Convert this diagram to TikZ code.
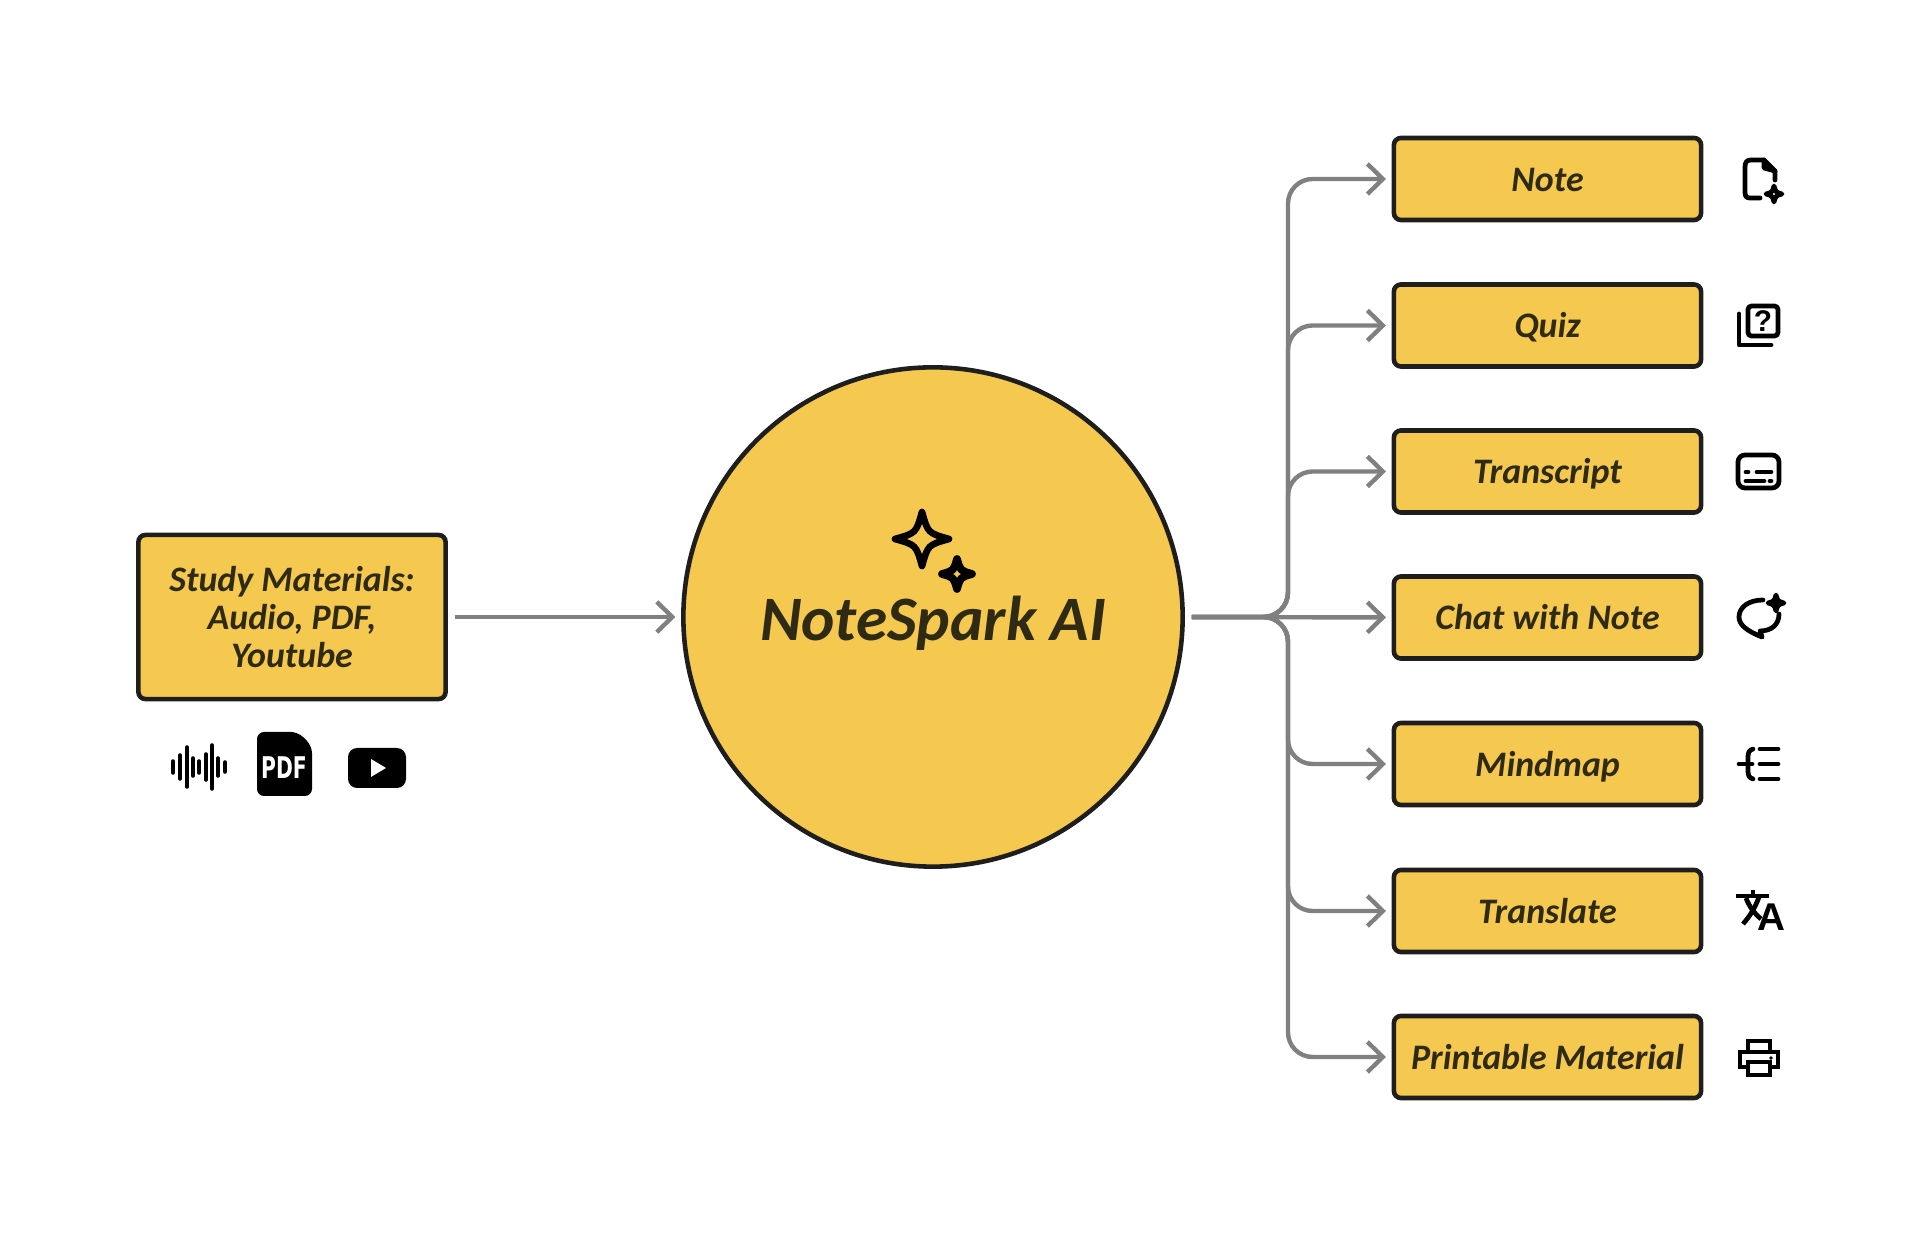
\documentclass[tikz,border=0pt]{standalone}
\usepackage{fontspec}
\setmainfont{Carlito}
\newfontfamily\iconfont{Liberation Sans}
\newfontfamily\pdffont{DejaVu Sans}
\usepackage{xcolor}
\usetikzlibrary{arrows.meta}
\definecolor{boxyellow}{HTML}{F5C84F}
\definecolor{boxline}{HTML}{1E1E1C}
\definecolor{inkdark}{HTML}{2E2A14}
\definecolor{linkgray}{HTML}{808080}
\tikzset{
  hand/.style={font=\fontsize{10.2}{10.8}\selectfont\bfseries\itshape,text=inkdark,align=center},
  card/.style={hand,draw=boxline,fill=boxyellow,line width=1.3pt,rounded corners=2pt,inner sep=0pt},
  outbox/.style={card,minimum width=3.07cm,minimum height=0.82cm,text height=7pt,text depth=0pt},
  link/.style={draw=linkgray,line width=1.25pt,-{Straight Barb[length=4.4pt,width=8.6pt,line width=1.25pt]},shorten <=2pt,shorten >=1.6pt},
  iconline/.style={draw=black,line width=1.35pt,line cap=round,line join=round},
  sparkle/.pic={
    \path[pic actions] (1,0) .. controls (.22,.22) .. (0,1) .. controls (-.22,.22) .. (-1,0)
      .. controls (-.22,-.22) .. (0,-1) .. controls (.22,-.22) .. cycle;
  }
}
\begin{document}
\begin{tikzpicture}[x=0.01cm,y=-0.01cm]
  \useasboundingbox (0,0) rectangle (1920,1237);

  \node[card,minimum width=3.07cm,minimum height=1.64cm] (source) at (292,617) {Study Materials:\\Audio, PDF,\\Youtube};
  \node[circle,draw=boxline,fill=boxyellow,line width=1.3pt,minimum size=4.99cm,inner sep=0pt] (core) at (933,617) {};
  \node[hand,font=\fontsize{18}{20}\selectfont\bfseries\itshape] (title) at (933,623) {NoteSpark AI};

  \foreach \name/\ypos/\txt in {note/179/Note,quiz/325.5/Quiz,transcript/471.5/Transcript,chat/617.5/Chat with Note,mindmap/764/Mindmap,translate/911/Translate,printable/1057/Printable Material}
    \node[outbox] (\name) at (1547.5,\ypos) {\txt};

  % arrows
  \coordinate (spine) at (1288,617);
  \draw[link] (source) -- (core);
  \draw[link] (core) -- (chat);
  \foreach \name in {note,quiz,transcript,mindmap,translate,printable}
    \draw[link,rounded corners=7pt] (core.east) -- (spine) |- (\name.west);

  % stars in the circle
  \pic[iconline,line width=1.9pt,scale=27] at (922,539) {sparkle};
  \pic[iconline,line width=2.2pt,scale=15] at (957,574) {sparkle};

  % source icons
  \foreach \xpos/\half in {173/6,180/12,187/20,193/9,199/6,206/13,212/22,218/9,225/5}
    \draw[black,line width=1pt,line cap=round] (\xpos,767-\half) -- (\xpos,767+\half);
  \fill[black,rounded corners=2pt] (257,732) -- (298,732) -- (312,746) -- (312,796) -- (257,796) -- cycle;
  \node[text=white,inner sep=0pt,font=\pdffont\fontsize{8.5}{9}\selectfont\bfseries] (pdf) at (284,768) {\scalebox{.68}[1]{PDF}};
  \fill[black,rounded corners=2.6pt] (348,748) rectangle (406,788);
  \fill[white] (371,759) -- (386,768) -- (371,777) -- cycle;

  % note
  \draw[iconline] (1760,198) -- (1750,198) .. controls (1746,198) and (1745,196) .. (1745,192) -- (1745,167)
    .. controls (1745,162) and (1747,160) .. (1751,160) -- (1764,160) -- (1775,171) -- (1775,180);
  \draw[iconline] (1764,160) -- (1764,168) -- (1775,171);
  \pic[iconline,scale=8] at (1774,194) {sparkle};

  % quiz
  \draw[iconline,rounded corners=1pt] (1748,306) rectangle (1778,336);
  \draw[iconline] (1739,314) -- (1739,345) -- (1771,345);
  \node[inner sep=0pt,font=\iconfont\fontsize{8.5}{9}\selectfont\bfseries] (qmark) at (1763,321) {?};

  % transcript
  \draw[iconline,rounded corners=2pt] (1738,455) rectangle (1779,488);
  \draw[iconline] (1746,472) -- (1748,472) (1757,472) -- (1771,472) (1746,481) -- (1764,481) (1770,481) -- (1771,481);

  % chat
  \draw[iconline] (1763,600) .. controls (1749,600) and (1739,607) .. (1739,617)
    .. controls (1739,625) and (1747,631) .. (1762,637) -- (1760,631)
    .. controls (1771,631) and (1779,625) .. (1779,614);
  \pic[iconline,fill=black,scale=8] at (1776,603) {sparkle};

  % mindmap
  \draw[iconline] (1760,749) -- (1778,749) (1760,764) -- (1778,764) (1760,779) -- (1778,779);
  \draw[iconline] (1753,749) .. controls (1749,750) and (1748,753) .. (1748,757) -- (1748,771)
    .. controls (1748,775) and (1749,778) .. (1753,779);
  \draw[iconline] (1739,764) -- (1752,764);

  % translate
  \draw[iconline,line cap=butt] (1736,896) -- (1769,896) (1753,890) -- (1753,896);
  \draw[iconline,line cap=butt] (1743,924) .. controls (1750,916) and (1755,908) .. (1759,897);
  \draw[iconline,line cap=butt] (1746,898) .. controls (1749,906) and (1754,913) .. (1761,919);
  \node[inner sep=0pt,font=\iconfont\fontsize{11}{12}\selectfont\bfseries] (letter) at (1771,917.5) {A};

  % printer
  \draw[iconline,line cap=butt,line join=miter] (1748,1052) -- (1748,1041) -- (1770,1041) -- (1770,1052);
  \draw[iconline,line cap=butt,line join=miter] (1748,1067) -- (1740,1067) -- (1740,1052) -- (1778,1052) -- (1778,1067) -- (1770,1067);
  \draw[iconline,line cap=butt,line join=miter] (1748,1062) rectangle (1770,1075);
  \fill[black] (1771,1058) circle (1.8);
\end{tikzpicture}
\end{document}
